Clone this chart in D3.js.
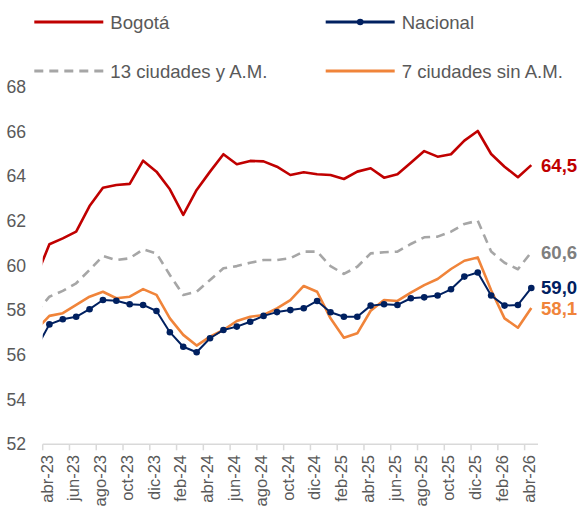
<!DOCTYPE html>
<html>
<head>
<meta charset="utf-8">
<script src="https://cdn.jsdelivr.net/npm/d3@7"></script>
<style>
  body { margin: 0; background: #fff; }
  svg { font-family: "Liberation Sans", Arial, sans-serif; }
</style>
</head>
<body>
<div id="chart"></div>
<script>
// categorias mensuales (abr-23 ... abr-26)
const months = [
    "abr-23","may-23","jun-23","jul-23","ago-23","sep-23","oct-23","nov-23","dic-23",
    "ene-24","feb-24","mar-24","abr-24","may-24","jun-24","jul-24","ago-24","sep-24",
    "oct-24","nov-24","dic-24","ene-25","feb-25","mar-25","abr-25","may-25","jun-25",
    "jul-25","ago-25","sep-25","oct-25","nov-25","dic-25","ene-26","feb-26","mar-26","abr-26"
];

// valor de mar-23 (fuera del eje, se recorta)
const prevMonth = "mar-23";

const bogota = [
    60.96, 61.22, 61.52, 62.67, 63.49, 63.61, 63.66, 64.70, 64.21, 63.42,
    62.27, 63.39, 64.21, 64.99, 64.54, 64.69, 64.67, 64.43, 64.06, 64.18,
    64.09, 64.06, 63.88, 64.21, 64.36, 63.94, 64.09, 64.61, 65.13, 64.88,
    64.99, 65.60, 66.03, 65.00, 64.43, 63.96, 64.50
];
const nacional = [
    57.37, 57.60, 57.71, 58.05, 58.46, 58.43, 58.27, 58.24, 57.97, 57.02,
    56.37, 56.12, 56.75, 57.12, 57.27, 57.49, 57.75, 57.92, 58.01, 58.09,
    58.42, 57.91, 57.71, 57.71, 58.21, 58.27, 58.24, 58.54, 58.58, 58.66,
    58.94, 59.51, 59.69, 58.66, 58.21, 58.24, 59.00
];
const ciudades13 = [
    58.61, 58.87, 59.21, 59.81, 60.43, 60.25, 60.33, 60.73, 60.55, 59.58,
    58.69, 58.83, 59.36, 59.88, 59.98, 60.13, 60.25, 60.25, 60.33, 60.63,
    60.63, 59.98, 59.63, 59.95, 60.55, 60.60, 60.63, 60.97, 61.27, 61.30,
    61.52, 61.87, 62.01, 60.63, 60.13, 59.84, 60.60
];
const ciudades7 = [
    57.75, 57.87, 58.24, 58.61, 58.83, 58.54, 58.61, 58.95, 58.69, 57.64,
    56.90, 56.42, 56.82, 57.12, 57.52, 57.71, 57.79, 58.09, 58.46, 59.09,
    58.83, 57.64, 56.77, 56.97, 57.98, 58.46, 58.42, 58.79, 59.13, 59.40,
    59.85, 60.22, 60.37, 58.90, 57.64, 57.22, 58.10
];
// mar-23 para cada serie
const prevValues = { bogota: 59.47, nacional: 56.27, ciudades13: 57.90, ciudades7: 57.12 };

const yTicks = [52, 54, 56, 58, 60, 62, 64, 66, 68];
const endLabels = ["64,5", "59,0", "60,6", "58,1"];

const series = [
    { key: "ciudades13", name: "13 ciudades y A.M.", values: ciudades13, color: "#A6A6A6", width: 2.6, dash: "9,6", label: endLabels[2], labelColor: "#7F7F7F" },
    { key: "ciudades7", name: "7 ciudades sin A.M.", values: ciudades7, color: "#F0843A", width: 2.6, dash: null, label: endLabels[3], labelColor: "#F0843A" },
    { key: "bogota", name: "Bogotá", values: bogota, color: "#C00000", width: 2.6, dash: null, label: endLabels[0], labelColor: "#C00000" },
    { key: "nacional", name: "Nacional", values: nacional, color: "#002060", width: 2, dash: null, label: endLabels[1], labelColor: "#002060", marker: true }
];

/**
 * RENDER
 */
function draw_chart() {
    const width = 579, height = 508;
    const svg = d3.select("#chart").append("svg").attr("width", width).attr("height", height);

    const x = d3.scaleBand().domain(months).range([42.7, 538]).padding(0);
    const cx = m => m === prevMonth ? x(months[0]) - x.step() / 2 : x(m) + x.bandwidth() / 2;
    const y = d3.scaleLinear().domain([52, 68]).range([444.3, 87]);

    // eje Y (solo etiquetas)
    svg.append("g").selectAll("text").data(yTicks).enter().append("text")
        .attr("x", 26).attr("y", d => y(d)).attr("dy", "0.35em")
        .attr("text-anchor", "end").attr("fill", "#595959")
        .style("font-size", "17.6px").text(d => d);

    // eje X
    svg.append("line")
        .attr("x1", x.range()[0]).attr("x2", x.range()[1])
        .attr("y1", y(52)).attr("y2", y(52))
        .attr("stroke", "#D9D9D9").attr("stroke-width", 1.5);

    const tickMonths = months.filter((m, i) => i % 2 === 0);
    svg.append("g").selectAll("line").data(tickMonths).enter().append("line")
        .attr("x1", d => x(d)).attr("x2", d => x(d))
        .attr("y1", y(52)).attr("y2", y(52) + 6)
        .attr("stroke", "#D9D9D9").attr("stroke-width", 1.5);

    svg.append("g").selectAll("text").data(tickMonths).enter().append("text")
        .attr("transform", d => `translate(${cx(d) + 3.2},455) rotate(-90)`)
        .attr("text-anchor", "end").attr("fill", "#595959")
        .style("font-size", "16.5px").text(d => d);

    // zona de recorte del area de trazado
    svg.append("clipPath").attr("id", "plot-clip")
        .append("rect").attr("x", x.range()[0]).attr("y", 0)
        .attr("width", x.range()[1] - x.range()[0]).attr("height", height);

    const line = d3.line().x(d => cx(d.m)).y(d => y(d.v));
    const plot = svg.append("g").attr("clip-path", "url(#plot-clip)");

    series.forEach(s => {
        const pts = [{ m: prevMonth, v: prevValues[s.key] }]
            .concat(s.values.map((v, i) => ({ m: months[i], v: v })));

        plot.append("path").datum(pts)
            .attr("d", line).attr("fill", "none")
            .attr("stroke", s.color).attr("stroke-width", s.width)
            .attr("stroke-linejoin", "round")
            .attr("stroke-dasharray", s.dash || null);

        if (s.marker) {
            plot.selectAll("circle." + s.key).data(pts.slice(1)).enter().append("circle")
                .attr("class", s.key)
                .attr("cx", d => cx(d.m)).attr("cy", d => y(d.v)).attr("r", 3.3)
                .attr("fill", s.color);
        }

        // etiqueta del ultimo valor
        const last = s.values[s.values.length - 1];
        svg.append("text")
            .attr("x", 541).attr("y", y(last)).attr("dy", "0.35em")
            .attr("fill", s.labelColor).style("font-size", "18.6px").style("font-weight", "bold")
            .text(s.label);
    });

    // leyenda
    const legend = [
        { s: series[2], lx: 34.3, ly: 22 },
        { s: series[3], lx: 325.7, ly: 22 },
        { s: series[0], lx: 34.3, ly: 71 },
        { s: series[1], lx: 325.7, ly: 71 }
    ];
    legend.forEach(d => {
        const g = svg.append("g");
        g.append("line")
            .attr("x1", d.lx).attr("x2", d.lx + 69)
            .attr("y1", d.ly).attr("y2", d.ly)
            .attr("stroke", d.s.color).attr("stroke-width", 3)
            .attr("stroke-dasharray", d.s.dash || null);
        if (d.s.marker) {
            g.append("circle").attr("cx", d.lx + 34.5).attr("cy", d.ly).attr("r", 3.3).attr("fill", d.s.color);
        }
        g.append("text")
            .attr("x", d.lx + 76).attr("y", d.ly).attr("dy", "0.35em")
            .attr("fill", "#595959").style("font-size", "18.6px")
            .text(d.s.name);
    });
}

draw_chart();
</script>
</body>
</html>
